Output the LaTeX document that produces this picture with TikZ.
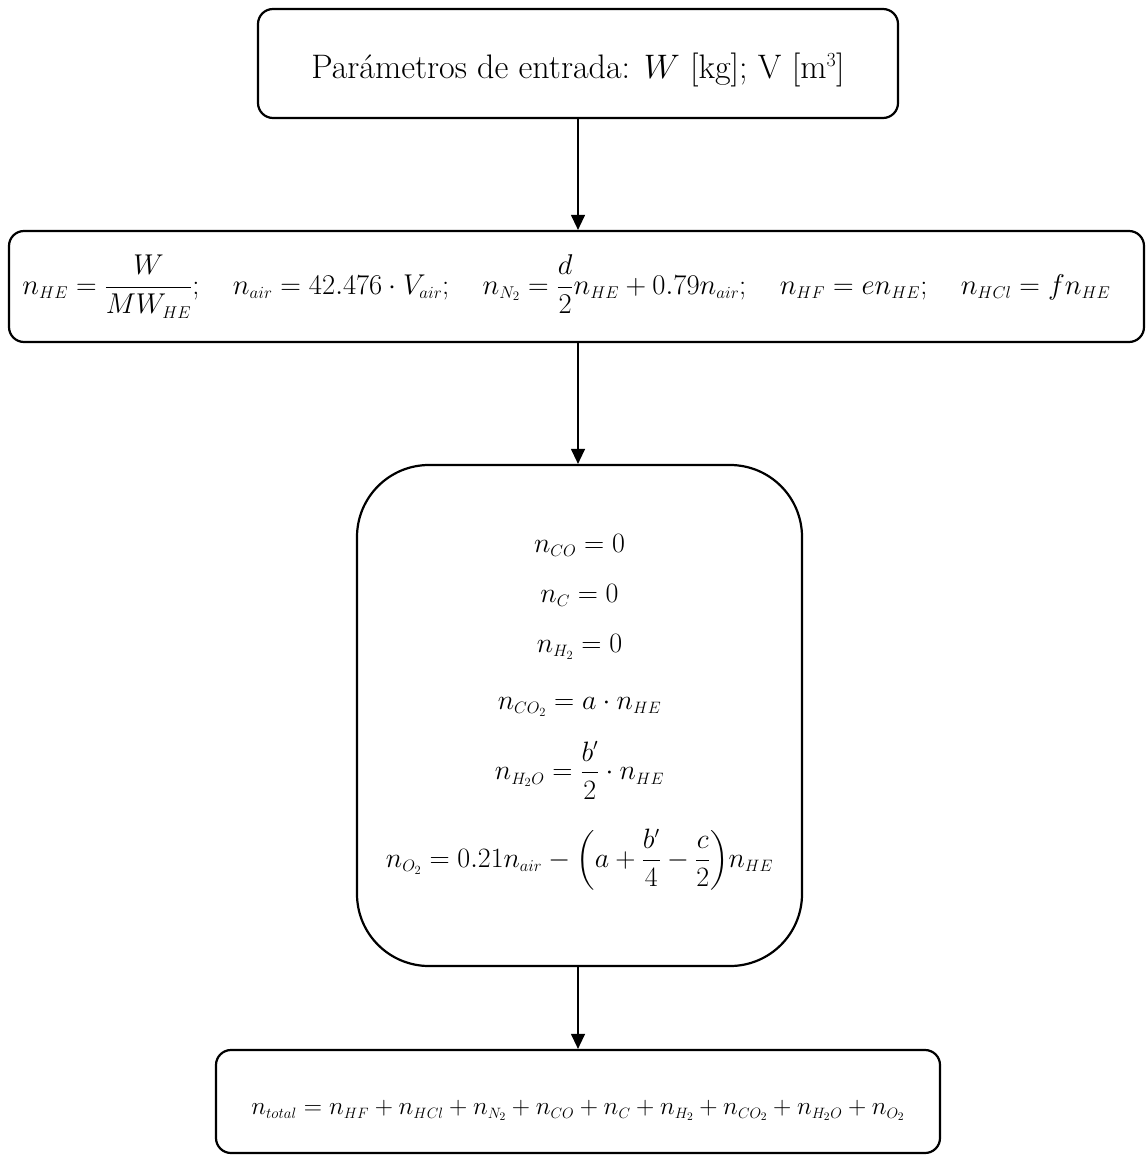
\documentclass[tikz,border=0pt]{standalone}
\usepackage{fix-cm}
\usepackage{amsmath}
\usetikzlibrary{arrows.meta}
% compact sub/superscripts for the large formula sizes
\DeclareMathSizes{34}{34}{20}{15}
\DeclareMathSizes{28.6}{28.6}{17}{13}
\DeclareMathSizes{28}{28}{16.5}{12.5}
\DeclareMathSizes{25.3}{25.3}{15}{11.5}

\begin{document}
\begin{tikzpicture}[x=1pt,y=-1pt,
  flowbox/.style={draw, line width=2.2pt, rounded corners=#1, inner sep=0pt,
    align=center},
  flowbox/.default=15pt,
  link/.style={line width=1.2pt, -{Triangle[width=14pt,length=15pt]}}]
\useasboundingbox (0,0) rectangle (1146,1155);

% input parameters
\node[flowbox, minimum width=640pt, minimum height=109pt,
  font=\fontsize{34}{40}\selectfont, text height=38pt, text depth=7pt] (input) at (578,63.5)
  {Parámetros de entrada: $W$ [kg]; V [m$^3$]};

% initial moles
\node[flowbox, minimum width=1135pt, minimum height=111pt,
  font=\fontsize{28.6}{34}\selectfont] (moles) at (576.5,286.5)
  {$\displaystyle n_{HE}=\frac{W}{MW_{HE}};\quad n_{air}=42.476\cdot V_{air};\quad
    n_{N_2}=\frac{d}{2}n_{HE}+0.79n_{air};\quad n_{HF}=en_{HE};\quad n_{HCl}=fn_{HE}$\hspace*{20pt}};

% products
\node[flowbox=72pt, minimum width=445pt, minimum height=501pt,
  font=\fontsize{28}{34}\selectfont] (products) at (579.5,715.5)
  {\setlength{\jot}{13pt}\raisebox{6pt}[\height][\depth]{$\begin{gathered}
    n_{CO}=0\\[3pt]
    n_{C}=0\\[3pt]
    n_{H_2}=0\\[10pt]
    n_{CO_2}=a\cdot n_{HE}\\[8pt]
    n_{H_2O}=\frac{b'}{2}\cdot n_{HE}\\[16pt]
    n_{O_2}=0.21n_{air}-{\left(a+\frac{b'}{4}-\frac{c}{2}\right)}n_{HE}
  \end{gathered}$}};

% total
\node[flowbox, minimum width=724pt, minimum height=103pt,
  font=\fontsize{25.3}{31}\selectfont, text height=31pt, text depth=5pt] (total) at (578,1101.5)
  {$n_{total}=n_{HF}+n_{HCl}+n_{N_2}+n_{CO}+n_{C}+n_{H_2}+n_{CO_2}+n_{H_2O}+n_{O_2}$};

\draw[link] (input.south) -- (input.south |- moles.north);
\draw[link] (input.south |- moles.south) -- (input.south |- products.north);
\draw[link] (input.south |- products.south) -- (input.south |- total.north);
\end{tikzpicture}
\end{document}
